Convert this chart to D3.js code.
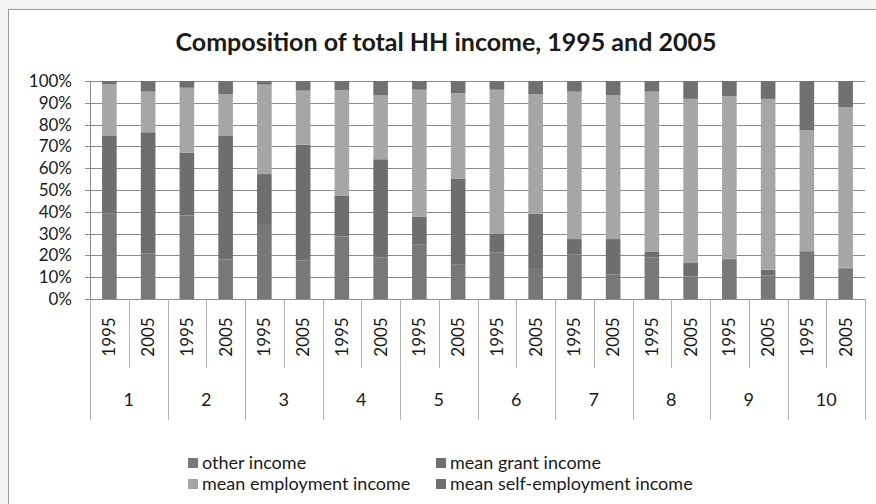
<!DOCTYPE html>
<html>
<head>
<meta charset="utf-8">
<script src="https://cdn.jsdelivr.net/npm/d3@7"></script>
<style>
  html, body { margin: 0; padding: 0; background: #f3f3f3; }
  svg { display: block; }
  text { font-family: Lato, "Open Sans", sans-serif; fill: #1a1a1a; }
</style>
</head>
<body>
<svg id="chart" width="876" height="504"></svg>
<script>
// Income deciles and survey years
const groups = ["1", "2", "3", "4", "5", "6", "7", "8", "9", "10"];
const years = ["1995", "2005"];

// Share of total household income (%), one value per bar: decile 1 1995, decile 1 2005, ...
const otherIncome      = [39.1, 20.8, 38.3, 18.2, 34.4, 17.7, 28.7, 19.1, 24.9, 15.7, 21.4, 14.2, 20.3, 11.3, 19.1, 10.4, 18.0, 10.8, 21.8, 14.0];
const grantIncome      = [35.7, 55.7, 28.9, 56.6, 22.9, 53.1, 18.8, 45.0, 12.8, 39.4, 8.7, 25.0, 7.2, 16.2, 2.7, 6.4, 0.5, 2.6, 0.5, 0.4];
const employmentIncome = [23.8, 18.6, 29.7, 19.1, 41.0, 24.8, 48.4, 29.3, 58.3, 39.3, 65.9, 54.7, 67.6, 65.9, 73.3, 75.0, 74.5, 78.4, 55.1, 73.5];
const selfEmpIncome    = [1.4, 4.9, 3.1, 6.1, 1.7, 4.4, 4.1, 6.6, 4.0, 5.6, 4.0, 6.1, 4.9, 6.6, 4.9, 8.2, 7.0, 8.2, 22.6, 12.1];

const seriesNames = ["other income", "mean grant income", "mean employment income", "mean self-employment income"];
const seriesKeys = ["other", "grant", "employment", "self"];
const seriesColors = ["#787878", "#6e6e6e", "#a6a6a6", "#707070"];
const yTicks = [0, 0.1, 0.2, 0.3, 0.4, 0.5, 0.6, 0.7, 0.8, 0.9, 1.0];

// Build one row per bar
const rows = [];
groups.forEach((g, gi) => {
  years.forEach((yr, yi) => {
    const i = gi * years.length + yi;
    rows.push({
      id: i, group: g, year: yr,
      other: otherIncome[i], grant: grantIncome[i],
      employment: employmentIncome[i], self: selfEmpIncome[i]
    });
  });
});

const svg = d3.select("#chart");

// Chart area frame
svg.append("rect")
  .attr("x", 8.5).attr("y", 9.5)
  .attr("width", 880).attr("height", 510)
  .attr("fill", "#ffffff").attr("stroke", "#9a9a9a").attr("stroke-width", 1);

const plot = { left: 90, right: 865, top: 81, bottom: 299 };

const x = d3.scaleBand()
  .domain(rows.map(d => d.id))
  .range([plot.left, plot.right])
  .paddingInner(0.623)
  .paddingOuter(0.3115);

const y = d3.scaleLinear().domain([0, 1]).range([plot.bottom, plot.top]);

// Horizontal gridlines with outside ticks
const yAxis = d3.axisLeft(y)
  .tickValues(yTicks)
  .tickFormat(d3.format(".0%"))
  .tickSize(-(plot.right - plot.left))
  .tickPadding(18);

const gy = svg.append("g")
  .attr("transform", `translate(${plot.left},0)`)
  .call(yAxis);
gy.select(".domain").remove();
gy.selectAll(".tick line")
  .attr("x1", -5)
  .attr("stroke", "#8c8c8c").attr("stroke-width", 1)
  .attr("shape-rendering", "crispEdges");
gy.selectAll(".tick text")
  .attr("font-size", 17).attr("fill", "#1a1a1a")
  .attr("font-family", "Lato, sans-serif");

// Vertical axis line
svg.append("line")
  .attr("x1", plot.left + 0.5).attr("x2", plot.left + 0.5)
  .attr("y1", plot.top).attr("y2", plot.bottom)
  .attr("stroke", "#8c8c8c");

// Stacked 100% bars
const stack = d3.stack().keys(seriesKeys).offset(d3.stackOffsetExpand);
const stacked = stack(rows);

svg.append("g")
  .selectAll("g")
  .data(stacked)
  .join("g")
  .attr("fill", (d, i) => seriesColors[i])
  .selectAll("rect")
  .data(d => d)
  .join("rect")
  .attr("x", d => x(d.data.id))
  .attr("width", x.bandwidth())
  .attr("y", d => y(d[1]))
  .attr("height", d => y(d[0]) - y(d[1]));

// Category axis: baseline, year separators, group separators
const step = x.step();
const axisG = svg.append("g").attr("shape-rendering", "crispEdges");
axisG.append("line")
  .attr("x1", plot.left - 5).attr("x2", plot.right)
  .attr("y1", plot.bottom + 0.5).attr("y2", plot.bottom + 0.5)
  .attr("stroke", "#8c8c8c");

d3.range(rows.length + 1).forEach(i => {
  const xx = Math.round(plot.left + i * step) + 0.5;
  const isGroupEdge = i % years.length === 0;
  axisG.append("line")
    .attr("x1", xx).attr("x2", xx)
    .attr("y1", plot.bottom)
    .attr("y2", isGroupEdge ? 420 : 368)
    .attr("stroke", "#b4b4b4");
});

// Year labels (rotated)
svg.append("g")
  .selectAll("text")
  .data(rows)
  .join("text")
  .attr("transform", d => `translate(${x(d.id) + x.bandwidth() / 2 + 6},337) rotate(-90)`)
  .attr("text-anchor", "middle")
  .attr("font-size", 17)
  .text(d => d.year);

// Group labels
const groupScale = d3.scaleBand().domain(groups).range([plot.left, plot.right]);
svg.append("g")
  .selectAll("text")
  .data(groups)
  .join("text")
  .attr("x", d => groupScale(d) + groupScale.bandwidth() / 2)
  .attr("y", 406)
  .attr("text-anchor", "middle")
  .attr("font-size", 18)
  .text(d => d);

// Title
svg.append("text")
  .attr("x", 446).attr("y", 51)
  .attr("text-anchor", "middle")
  .attr("font-size", 25).attr("font-weight", "bold")
  .text("Composition of total HH income, 1995 and 2005");

// Legend, two columns by two rows
const legendPos = [
  { x: 188, y: 463 }, { x: 436, y: 463 },
  { x: 188, y: 484 }, { x: 436, y: 484 }
];
const legend = svg.append("g")
  .selectAll("g")
  .data(seriesNames)
  .join("g")
  .attr("transform", (d, i) => `translate(${legendPos[i].x},${legendPos[i].y})`);
legend.append("rect")
  .attr("x", 0).attr("y", -5).attr("width", 10).attr("height", 10)
  .attr("fill", (d, i) => seriesColors[i]);
legend.append("text")
  .attr("x", 14).attr("y", 6)
  .attr("font-size", 18)
  .text(d => d);
</script>
</body>
</html>
